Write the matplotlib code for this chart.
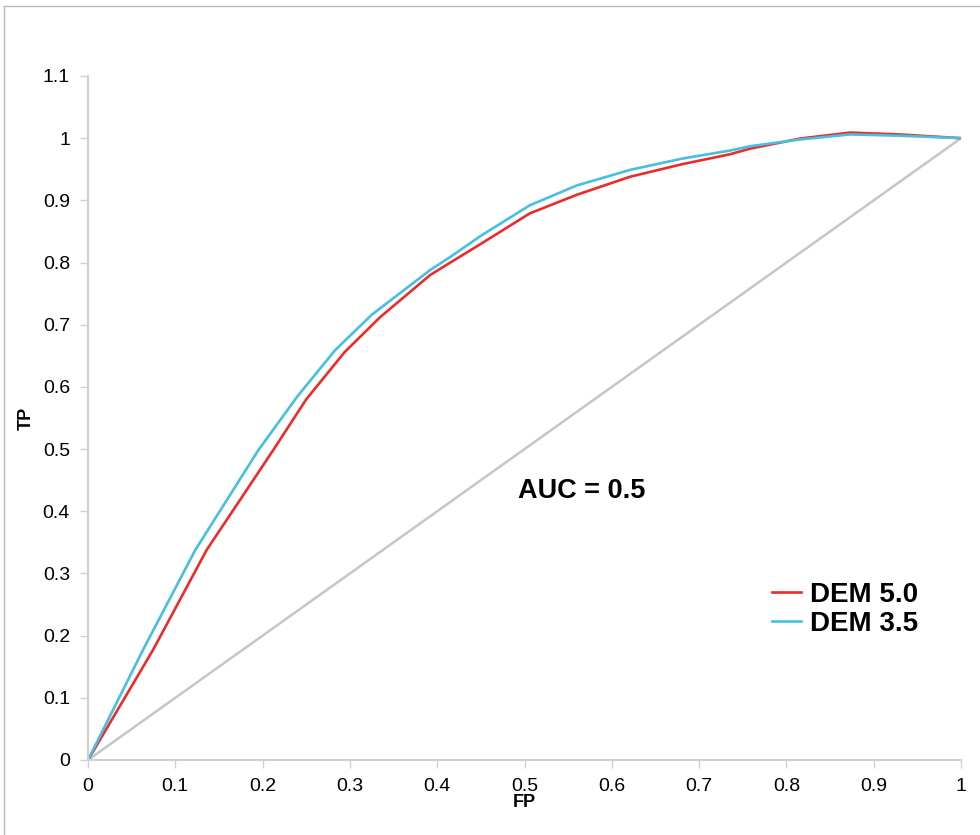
import matplotlib
matplotlib.use("Agg")
import matplotlib.pyplot as plt
from matplotlib.lines import Line2D
import numpy as np

# values
fp_dem50 = [0, 0.0745, 0.136, 0.175, 0.212, 0.25, 0.294, 0.3345, 0.392, 0.415, 0.45,
            0.506, 0.56, 0.621, 0.68, 0.735, 0.758, 0.816, 0.873, 0.930, 1.0]
tp_dem50 = [0, 0.177, 0.338, 0.420, 0.498, 0.580, 0.656, 0.712, 0.780, 0.800, 0.830,
            0.879, 0.909, 0.938, 0.958, 0.974, 0.983, 0.9995, 1.009, 1.006, 1.0]

fp_dem35 = [0, 0.063, 0.123, 0.195, 0.24, 0.283, 0.325, 0.392, 0.415, 0.45,
            0.506, 0.56, 0.621, 0.68, 0.735, 0.758, 0.816, 0.873, 0.930, 1.0]
tp_dem35 = [0, 0.177, 0.338, 0.498, 0.585, 0.659, 0.716, 0.788, 0.809, 0.843,
            0.892, 0.924, 0.949, 0.967, 0.980, 0.987, 0.998, 1.006, 1.004, 1.0]

random_fp = [0, 1]
random_tp = [0, 1]

x_ticks = [0, 0.1, 0.2, 0.3, 0.4, 0.5, 0.6, 0.7, 0.8, 0.9, 1]
x_labels = ["0", "0.1", "0.2", "0.3", "0.4", "0.5", "0.6", "0.7", "0.8", "0.9", "1"]
y_ticks = [0, 0.1, 0.2, 0.3, 0.4, 0.5, 0.6, 0.7, 0.8, 0.9, 1, 1.1]
y_labels = ["0", "0.1", "0.2", "0.3", "0.4", "0.5", "0.6", "0.7", "0.8", "0.9", "1", "1.1"]

plt.rcParams['font.family'] = ['Liberation Sans', 'DejaVu Sans']

W, H = 980, 835
fig = plt.figure(figsize=(W / 100, H / 100), dpi=100)
ax = fig.add_axes([88 / W, 1 - 760 / H, (961 - 88) / W, (760 - 76) / H])

axis_grey = "#d0d0d0"
ax.plot(random_fp, random_tp, color="#c6c6c6", lw=1.8, solid_capstyle="round")
ax.plot(fp_dem50, tp_dem50, color="#ee2b2b", lw=1.9, label="DEM 5.0",
        solid_joinstyle="round")
ax.plot(fp_dem35, tp_dem35, color="#45c0e2", lw=1.9, label="DEM 3.5",
        solid_joinstyle="round")

ax.set_xlim(0, 1)
ax.set_ylim(0, 1.1)
ax.set_xticks(x_ticks)
ax.set_xticklabels(x_labels)
ax.set_yticks(y_ticks)
ax.set_yticklabels(y_labels)
ax.tick_params(axis="both", direction="out", length=6, width=1, color=axis_grey,
               labelsize=14, labelcolor="black", pad=7)

for side in ["top", "right"]:
    ax.spines[side].set_visible(False)
for side in ["left", "bottom"]:
    ax.spines[side].set_color(axis_grey)
    ax.spines[side].set_linewidth(1.5)

ax.set_xlabel("FP", fontsize=13, fontweight="bold", labelpad=-1)
ax.set_ylabel("TP", fontsize=13, fontweight="bold", labelpad=6)

ax.text(0.4926, 0.4325, "AUC = 0.5", fontsize=19.5, fontweight="bold",
        ha="left", va="center")

leg = ax.legend(loc="upper left", bbox_to_anchor=(772 / W, 1 - 582 / H),
                bbox_transform=fig.transFigure, frameon=False,
                prop={"weight": "bold", "size": 20}, handlelength=1.05,
                handletextpad=0.3, labelspacing=0.1, borderpad=0, borderaxespad=0)

# outer chart frame (top and left edges visible)
fig.add_artist(Line2D([4 / W, 1], [1 - 6 / H, 1 - 6 / H], color="#b8b8b8", lw=1,
                      transform=fig.transFigure))
fig.add_artist(Line2D([4 / W, 4 / W], [0, 1 - 6 / H], color="#b8b8b8", lw=1,
                      transform=fig.transFigure))

fig.savefig("out.png", dpi=100)
